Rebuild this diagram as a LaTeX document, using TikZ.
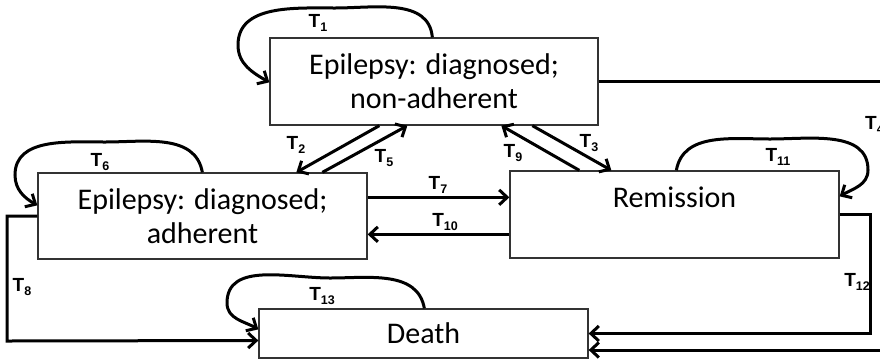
\documentclass[tikz,border=0pt]{standalone}
\usepackage{fontspec}
\setmainfont{Carlito}
\newfontfamily\lblfont{Liberation Sans}
\usetikzlibrary{arrows.meta,calc}
\newcommand{\Tl}[1]{T\raisebox{-4pt}{\fontsize{12.5}{12.5}\selectfont #1}}
\tikzset{
  state/.style={draw=black!80, line width=1.3pt, fill=white, rectangle, inner sep=0pt,
    font=\fontsize{30}{34}\selectfont, align=center},
  conn/.style={line width=3pt, -{Straight Barb[length=8pt,width=15pt,line width=3pt]}},
  plain/.style={line width=3pt},
  lbl/.style={font=\lblfont\bfseries\fontsize{19}{19}\selectfont, inner sep=0pt}
}
\begin{document}
\begin{tikzpicture}[x=1pt,y=-1pt]
\clip (0,0) rectangle (880,360);
\fill[white] (0,0) rectangle (880,360);

% nodes
\node[state, minimum width=328pt, minimum height=87pt] (N) at (434,81.5) {Epilepsy: diagnosed;\\non-adherent};
\node[state, minimum width=329pt, minimum height=86pt] (A) at (202.5,216) {Epilepsy: diagnosed;\\adherent};
\node[state, minimum width=329pt, minimum height=87pt] (R) at (674.5,214.5) {};
\node[font=\fontsize{30}{34}\selectfont, inner sep=0pt, anchor=center] (Rt) at (674.5,197) {Remission};
\node[state, minimum width=329pt, minimum height=49pt] (D) at (423.5,333.5) {Death};

% free ends off canvas
\coordinate (e1) at (900,81.5);
\coordinate (e2) at (900,350);

% T1 loop
\draw[conn] ([xshift=163pt]N.north west) to[out=95,in=0] (335,8) to[out=180,in=90] (238,45) to[out=-90,in=150] ([yshift=-45pt]N.north west);
% T6 loop
\draw[conn] ([xshift=165pt]A.north west) to[out=100,in=0] (105,142) to[out=180,in=90] (15,175) to[out=-90,in=150] ([yshift=-33pt]A.north west);
% T11 loop
\draw[conn] ([xshift=167pt]R.north west) to[out=80,in=180] (770,139) to[out=0,in=90] (868,170) to[out=-90,in=30] ([yshift=-26pt]R.north east);
% T13 loop
\draw[conn] ([xshift=166pt]D.north west) to[out=100,in=0] (330,278) to[out=180,in=90] (227,303) to[out=-90,in=150] ([yshift=-21pt]D.north west);

% diagonals
\draw[conn] ([xshift=110pt]N.south west) -- ([xshift=259pt]A.north west);
\draw[conn] ([xshift=285pt]A.north west) -- ([xshift=138pt]N.south west);
\draw[conn] ([xshift=70pt]R.north west) -- ([xshift=232pt]N.south west);
\draw[conn] ([xshift=263pt]N.south west) -- ([xshift=102pt]R.north west);

% horizontals
\draw[conn] ([yshift=-25pt]A.north east) -- ([yshift=-27pt]R.north west);
\draw[conn] ([yshift=-64pt]R.north west) -- ([yshift=-62pt]A.north east);

% T8
\draw[conn] (A.west) -| (7,341) -- ([yshift=-7pt]D.west);
% T12
\draw[conn] (R.east) -| (870,333.5) -- (D.east);
% T4
\draw[plain] (N.east) -- (e1);
\draw[conn] (e2) -- ([yshift=-16.5pt]D.east);

% labels
\node[lbl] (l1) at (318,23) {\Tl{1}};
\node[lbl] (l2) at (296,145) {\Tl{2}};
\node[lbl] (l5) at (384,158) {\Tl{5}};
\node[lbl] (l9) at (513,153) {\Tl{9}};
\node[lbl] (l3) at (589,143) {\Tl{3}};
\node[lbl] (l7) at (438,185) {\Tl{7}};
\node[lbl] (l10) at (445,222) {\Tl{10}};
\node[lbl] (l6) at (100,162) {\Tl{6}};
\node[lbl] (l8) at (22,287) {\Tl{8}};
\node[lbl] (l13) at (322,296) {\Tl{13}};
\node[lbl] (l11) at (778,157) {\Tl{11}};
\node[lbl] (l12) at (857,282) {\Tl{12}};
\node[lbl, anchor=west] (l4) at (865,125) {\Tl{4}};
\end{tikzpicture}
\end{document}
